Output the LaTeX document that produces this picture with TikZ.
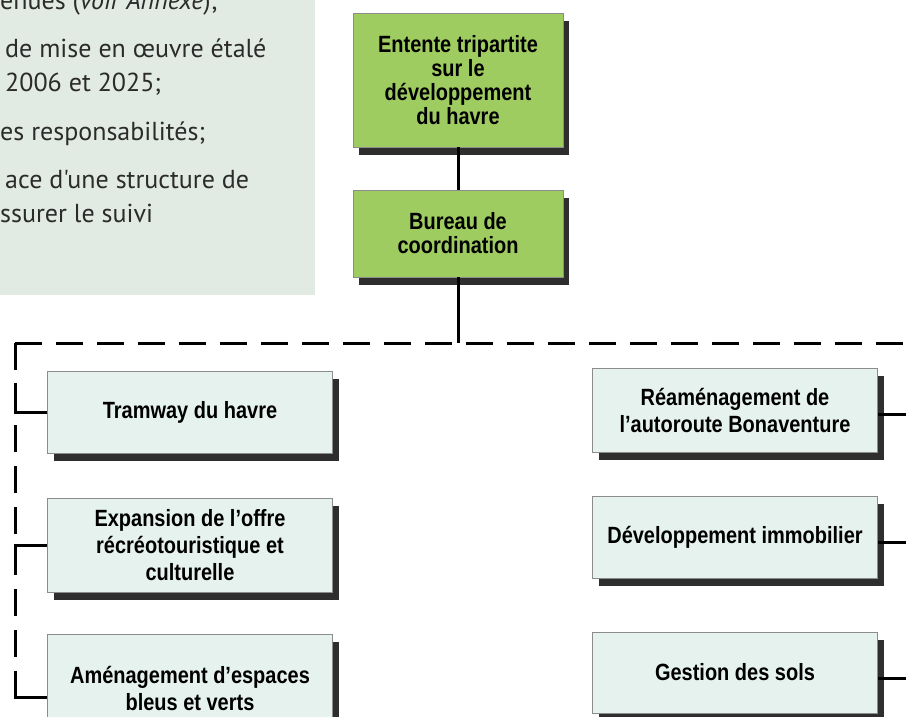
\documentclass[tikz,border=0pt]{standalone}
\usepackage{fontspec}
\usetikzlibrary{shadows}
\newfontfamily\panelfont{PT Sans}
\newfontfamily\boxfont[FakeStretch=0.85]{Liberation Sans}
\definecolor{cPanel}{HTML}{E2EBE3}
\definecolor{cPanelText}{HTML}{2B2B2B}
\definecolor{cGreen}{HTML}{9FCC60}
\definecolor{cMint}{HTML}{E6F2EE}
\definecolor{cBoxLine}{HTML}{8C8C8C}
\definecolor{cShadow}{HTML}{2E2E2E}
\begin{document}
\begin{tikzpicture}[x=1pt,y=-1pt,
  basebox/.style={draw=cBoxLine, line width=0.8pt, inner sep=0pt, align=center, text=black,
    drop shadow={shadow xshift=6pt, shadow yshift=-8pt, fill=cShadow, opacity=1}},
  topbox/.style={basebox, fill=cGreen, minimum width=210pt,
    font=\boxfont\bfseries\fontsize{23.5}{24}\selectfont},
  subbox/.style={basebox, fill=cMint, minimum width=285pt,
    font=\boxfont\bfseries\fontsize{23.5}{27}\selectfont},
  paneltxt/.style={anchor=base west, inner sep=0pt, text=cPanelText,
    font=\panelfont\fontsize{26}{30}\selectfont},
  conn/.style={draw=black, line width=3pt},
  busline/.style={draw=black, line width=3pt, dash pattern=on 27pt off 14pt}
]
\path[use as bounding box, clip] (0,0) rectangle (906,716);
\fill[white] (0,0) rectangle (906,716);

% text panel
\fill[cPanel] (0,0) rectangle (315,295);
\node[paneltxt] (p1) at (0,9) {enues (\textit{voir Annexe});};
\node[paneltxt] (p2) at (5,57) {de mise en œuvre étalé};
\node[paneltxt] (p3) at (5,91) {2006 et 2025;};
\node[paneltxt] (p4) at (0,140) {es responsabilités;};
\node[paneltxt] (p5) at (5,188) {ace d'une structure de};
\node[paneltxt] (p6) at (0,222) {ssurer le suivi};

% top boxes
\node[topbox, minimum height=134pt] (entente) at (458,80)
  {Entente tripartite\\sur le\\développement\\du havre};
\node[topbox, minimum height=87pt] (bureau) at (458,233.5)
  {Bureau de\\coordination};

% sub boxes left
\node[subbox, minimum height=82pt] (tram) at (190,412) {Tramway du havre};
\node[subbox, minimum height=94pt] (expan) at (190,545)
  {Expansion de l’offre\\récréotouristique et\\culturelle};
\node[subbox, minimum height=108pt] (amen) at (190,688)
  {Aménagement d’espaces\\bleus et verts};

% sub boxes right
\node[subbox, minimum height=84pt] (ream) at (735,410)
  {Réaménagement de\\l’autoroute Bonaventure};
\node[subbox, minimum height=82pt] (devel) at (735,537) {Développement immobilier};
\node[subbox, minimum height=81pt] (sols) at (735,672.5) {Gestion des sols};

% bus coordinates
\coordinate (busL) at (15,343);
\coordinate (busR) at (906,343);
\coordinate (busC) at (458,343);
\coordinate (busLend) at (15,697);
\coordinate (tl) at (15,383);
\coordinate (el) at (15,575);
\coordinate (al) at (15,677);
\coordinate (r1) at (906,414);
\coordinate (r2) at (906,542);
\coordinate (r3) at (906,678);

% connectors
\draw[conn] (entente.south) -- (bureau.north);
\draw[conn] (bureau.south) -- (busC);
\draw[busline] (busL) -- (busR);
\draw[busline] (busL) -- (busLend);
\draw[conn] (tl) |- (tram.west);
\draw[conn] (el) |- (expan.west);
\draw[conn] (al) |- ([yshift=-9pt]amen.west);
\draw[conn] (ream.east |- r1) -- (r1);
\draw[conn] (devel.east |- r2) -- (r2);
\draw[conn] (sols.east |- r3) -- (r3);
\end{tikzpicture}
\end{document}
